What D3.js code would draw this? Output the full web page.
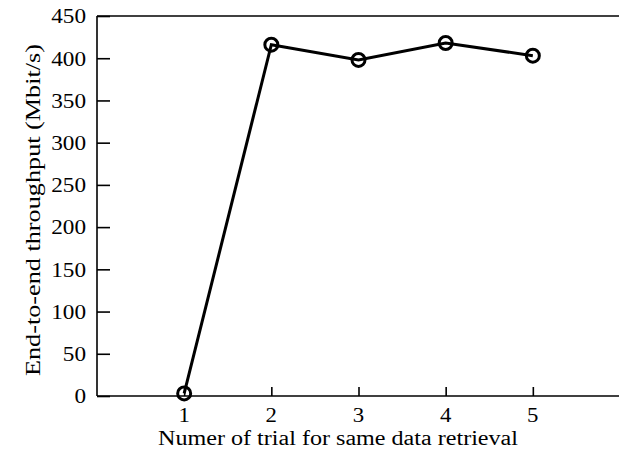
<!DOCTYPE html>
<html>
<head>
<meta charset="utf-8">
<script src="https://cdn.jsdelivr.net/npm/d3@7"></script>
<style>
  body { margin: 0; background: #fff; }
  svg { display: block; font-family: "Liberation Serif", "DejaVu Serif", serif; }
</style>
</head>
<body>
<svg id="chart" width="619" height="450"></svg>
<script>
const trials = [1, 2, 3, 4, 5];
const throughput = [3, 416, 398, 418, 403];
const yTicks = [0, 50, 100, 150, 200, 250, 300, 350, 400, 450];

const svg = d3.select("#chart");
const x = d3.scaleLinear().domain([0, 6]).range([97, 620]);
const y = d3.scaleLinear().domain([0, 450]).range([396, 16]);

// frame: left, top, bottom (right side runs off the page)
const frame = svg.append("g").attr("stroke", "#000").attr("stroke-width", 1.6);
frame.append("line").attr("x1", x(0)).attr("x2", x(0)).attr("y1", y(0)).attr("y2", y(450));
frame.append("line").attr("x1", x(0)).attr("x2", 619).attr("y1", y(450)).attr("y2", y(450));
frame.append("line").attr("x1", x(0)).attr("x2", 619).attr("y1", y(0)).attr("y2", y(0));

const yAxis = svg.append("g")
    .attr("transform", `translate(${x(0)},0)`)
    .call(d3.axisRight(y).tickValues(yTicks).tickSize(13).tickFormat(""));
yAxis.select(".domain").remove();
yAxis.selectAll("line").attr("stroke-width", 1.6);

svg.append("g").selectAll("text").data(yTicks).join("text")
    .attr("x", 86).attr("y", d => y(d)).attr("dy", "0.35em")
    .attr("text-anchor", "end").attr("font-size", 21)
    .attr("textLength", d => String(d).length * 11.6)
    .attr("lengthAdjust", "spacingAndGlyphs")
    .text(d => d);

const xAxis = svg.append("g")
    .attr("transform", `translate(0,${y(0)})`)
    .call(d3.axisTop(x).tickValues(trials).tickSize(9).tickFormat(""));
xAxis.select(".domain").remove();
xAxis.selectAll("line").attr("stroke-width", 1.6);

svg.append("g").selectAll("text").data(trials).join("text")
    .attr("x", d => x(d)).attr("y", 422)
    .attr("text-anchor", "middle").attr("font-size", 20)
    .attr("textLength", 11.4).attr("lengthAdjust", "spacingAndGlyphs")
    .text(d => d);

const points = trials.map((t, i) => [t, throughput[i]]);
svg.append("path")
    .datum(points)
    .attr("fill", "none").attr("stroke", "#000").attr("stroke-width", 3)
    .attr("d", d3.line().x(d => x(d[0])).y(d => y(d[1])));

svg.append("g").selectAll("circle").data(points).join("circle")
    .attr("cx", d => x(d[0])).attr("cy", d => y(d[1])).attr("r", 6.5)
    .attr("fill", "none").attr("stroke", "#000").attr("stroke-width", 3);

svg.append("text")
    .attr("x", 338).attr("y", 445)
    .attr("text-anchor", "middle").attr("font-size", 20.5)
    .attr("textLength", 360).attr("lengthAdjust", "spacingAndGlyphs")
    .text("Numer of trial for same data retrieval");

svg.append("text")
    .attr("transform", `translate(40,210) rotate(-90)`)
    .attr("text-anchor", "middle").attr("font-size", 21)
    .attr("textLength", 332).attr("lengthAdjust", "spacingAndGlyphs")
    .text("End-to-end throughput (Mbit/s)");
</script>
</body>
</html>
